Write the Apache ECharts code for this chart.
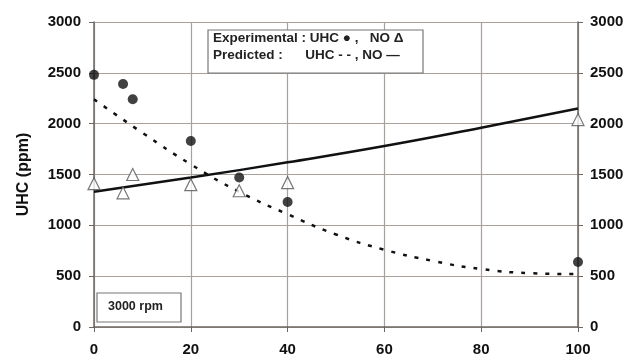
<!DOCTYPE html>
<html>
<head>
<meta charset="utf-8">
<script src="https://cdn.jsdelivr.net/npm/echarts@6/dist/echarts.min.js"></script>
<style>
  html, body { margin: 0; padding: 0; background: #fff; }
  #chart-box { width: 640px; height: 361px; }
</style>
</head>
<body>
<div id="chart-box"></div>
<script>
// experimental UHC (dots)
var uhcExpX = [0, 6, 8, 20, 30, 40, 100];
var uhcExpY = [2480, 2390, 2240, 1830, 1470, 1230, 640];
// experimental NO (triangles)
var noExpX = [0, 6, 8, 20, 30, 40, 100];
var noExpY = [1410, 1320, 1500, 1400, 1340, 1420, 2040];
// predicted UHC (dashed)
var uhcPredX = [0, 10, 20, 30, 40, 50, 60, 70, 80, 90, 100];
var uhcPredY = [2240, 1910, 1600, 1330, 1110, 910, 760, 650, 570, 530, 520];
// predicted NO (solid)
var noPredX = [0, 20, 40, 60, 80, 100];
var noPredY = [1330, 1470, 1620, 1780, 1960, 2150];

var xTicks = [0, 20, 40, 60, 80, 100];
var yTicks = [0, 500, 1000, 1500, 2000, 2500, 3000];

function pairs(xs, ys) {
  return xs.map(function (x, i) { return [x, ys[i]]; });
}

var chart = echarts.init(document.getElementById('chart-box'));
var font = 'Liberation Sans, Arial, sans-serif';
var gridColor = '#a8a19b';
var axisColor = '#6e6864';
var plain = function (v) { return String(v); };

var option = {
  animation: false,
  backgroundColor: '#fff',
  grid: { left: 94, right: 62, top: 22, bottom: 34 },
  xAxis: {
    type: 'value',
    min: xTicks[0],
    max: xTicks[xTicks.length - 1],
    interval: 20,
    axisLine: { lineStyle: { color: axisColor, width: 1.5 } },
    axisTick: { show: true, inside: false, length: 5, lineStyle: { color: axisColor } },
    splitLine: { show: true, lineStyle: { color: gridColor, width: 1.2 } },
    axisLabel: { color: '#111', fontFamily: font, fontWeight: 'bold', fontSize: 15, margin: 15, formatter: plain }
  },
  yAxis: [
    {
      type: 'value',
      min: yTicks[0],
      max: yTicks[yTicks.length - 1],
      interval: 500,
      name: 'UHC (ppm)',
      nameLocation: 'middle',
      nameRotate: 90,
      nameGap: 62,
      nameTextStyle: { color: '#111', fontFamily: font, fontWeight: 'bold', fontSize: 16 },
      axisLine: { show: true, lineStyle: { color: axisColor, width: 1.5 } },
      axisTick: { show: true, inside: false, length: 5, lineStyle: { color: axisColor } },
      splitLine: { show: true, lineStyle: { color: gridColor, width: 1.2 } },
      axisLabel: { color: '#111', fontFamily: font, fontWeight: 'bold', fontSize: 15, margin: 13, formatter: plain }
    },
    {
      type: 'value',
      position: 'right',
      min: yTicks[0],
      max: yTicks[yTicks.length - 1],
      interval: 500,
      axisLine: { show: true, lineStyle: { color: axisColor, width: 1.5 } },
      axisTick: { show: true, inside: false, length: 5, lineStyle: { color: axisColor } },
      splitLine: { show: false },
      axisLabel: { color: '#111', fontFamily: font, fontWeight: 'bold', fontSize: 15, margin: 12, formatter: plain }
    }
  ],
  series: [
    {
      name: 'UHC predicted',
      type: 'line',
      data: pairs(uhcPredX, uhcPredY),
      smooth: true,
      showSymbol: false,
      lineStyle: { color: '#111', width: 2.5, type: [4, 8] },
      z: 2
    },
    {
      name: 'NO predicted',
      type: 'line',
      data: pairs(noPredX, noPredY),
      smooth: true,
      showSymbol: false,
      lineStyle: { color: '#111', width: 2.5 },
      z: 2
    },
    {
      name: 'UHC experimental',
      type: 'scatter',
      data: pairs(uhcExpX, uhcExpY),
      symbol: 'circle',
      symbolSize: 10,
      itemStyle: { color: '#111' },
      z: 3
    },
    {
      name: 'NO experimental',
      type: 'scatter',
      data: pairs(noExpX, noExpY),
      symbol: 'triangle',
      symbolSize: 12,
      itemStyle: { color: '#fff', borderColor: '#555', borderWidth: 1.2 },
      z: 4
    }
  ],
  graphic: [
    {
      type: 'rect',
      shape: { x: 208, y: 30, width: 215, height: 43 },
      style: { fill: '#fff', stroke: '#777', lineWidth: 1.2 },
      z: 10
    },
    {
      type: 'text',
      left: 213, top: 31,
      style: { text: 'Experimental : UHC \u25CF ,   NO \u0394', fill: '#222', font: 'bold 13.5px ' + font },
      z: 11
    },
    {
      type: 'text',
      left: 213, top: 48,
      style: { text: 'Predicted :      UHC - - , NO \u2014', fill: '#222', font: 'bold 13.5px ' + font },
      z: 11
    },
    {
      type: 'rect',
      shape: { x: 97, y: 293, width: 84, height: 29 },
      style: { fill: '#fff', stroke: '#777', lineWidth: 1.2 },
      z: 10
    },
    {
      type: 'text',
      left: 108, top: 300,
      style: { text: '3000 rpm', fill: '#222', font: 'bold 12.5px ' + font },
      z: 11
    }
  ]
};
chart.setOption(option);
</script>
</body>
</html>
